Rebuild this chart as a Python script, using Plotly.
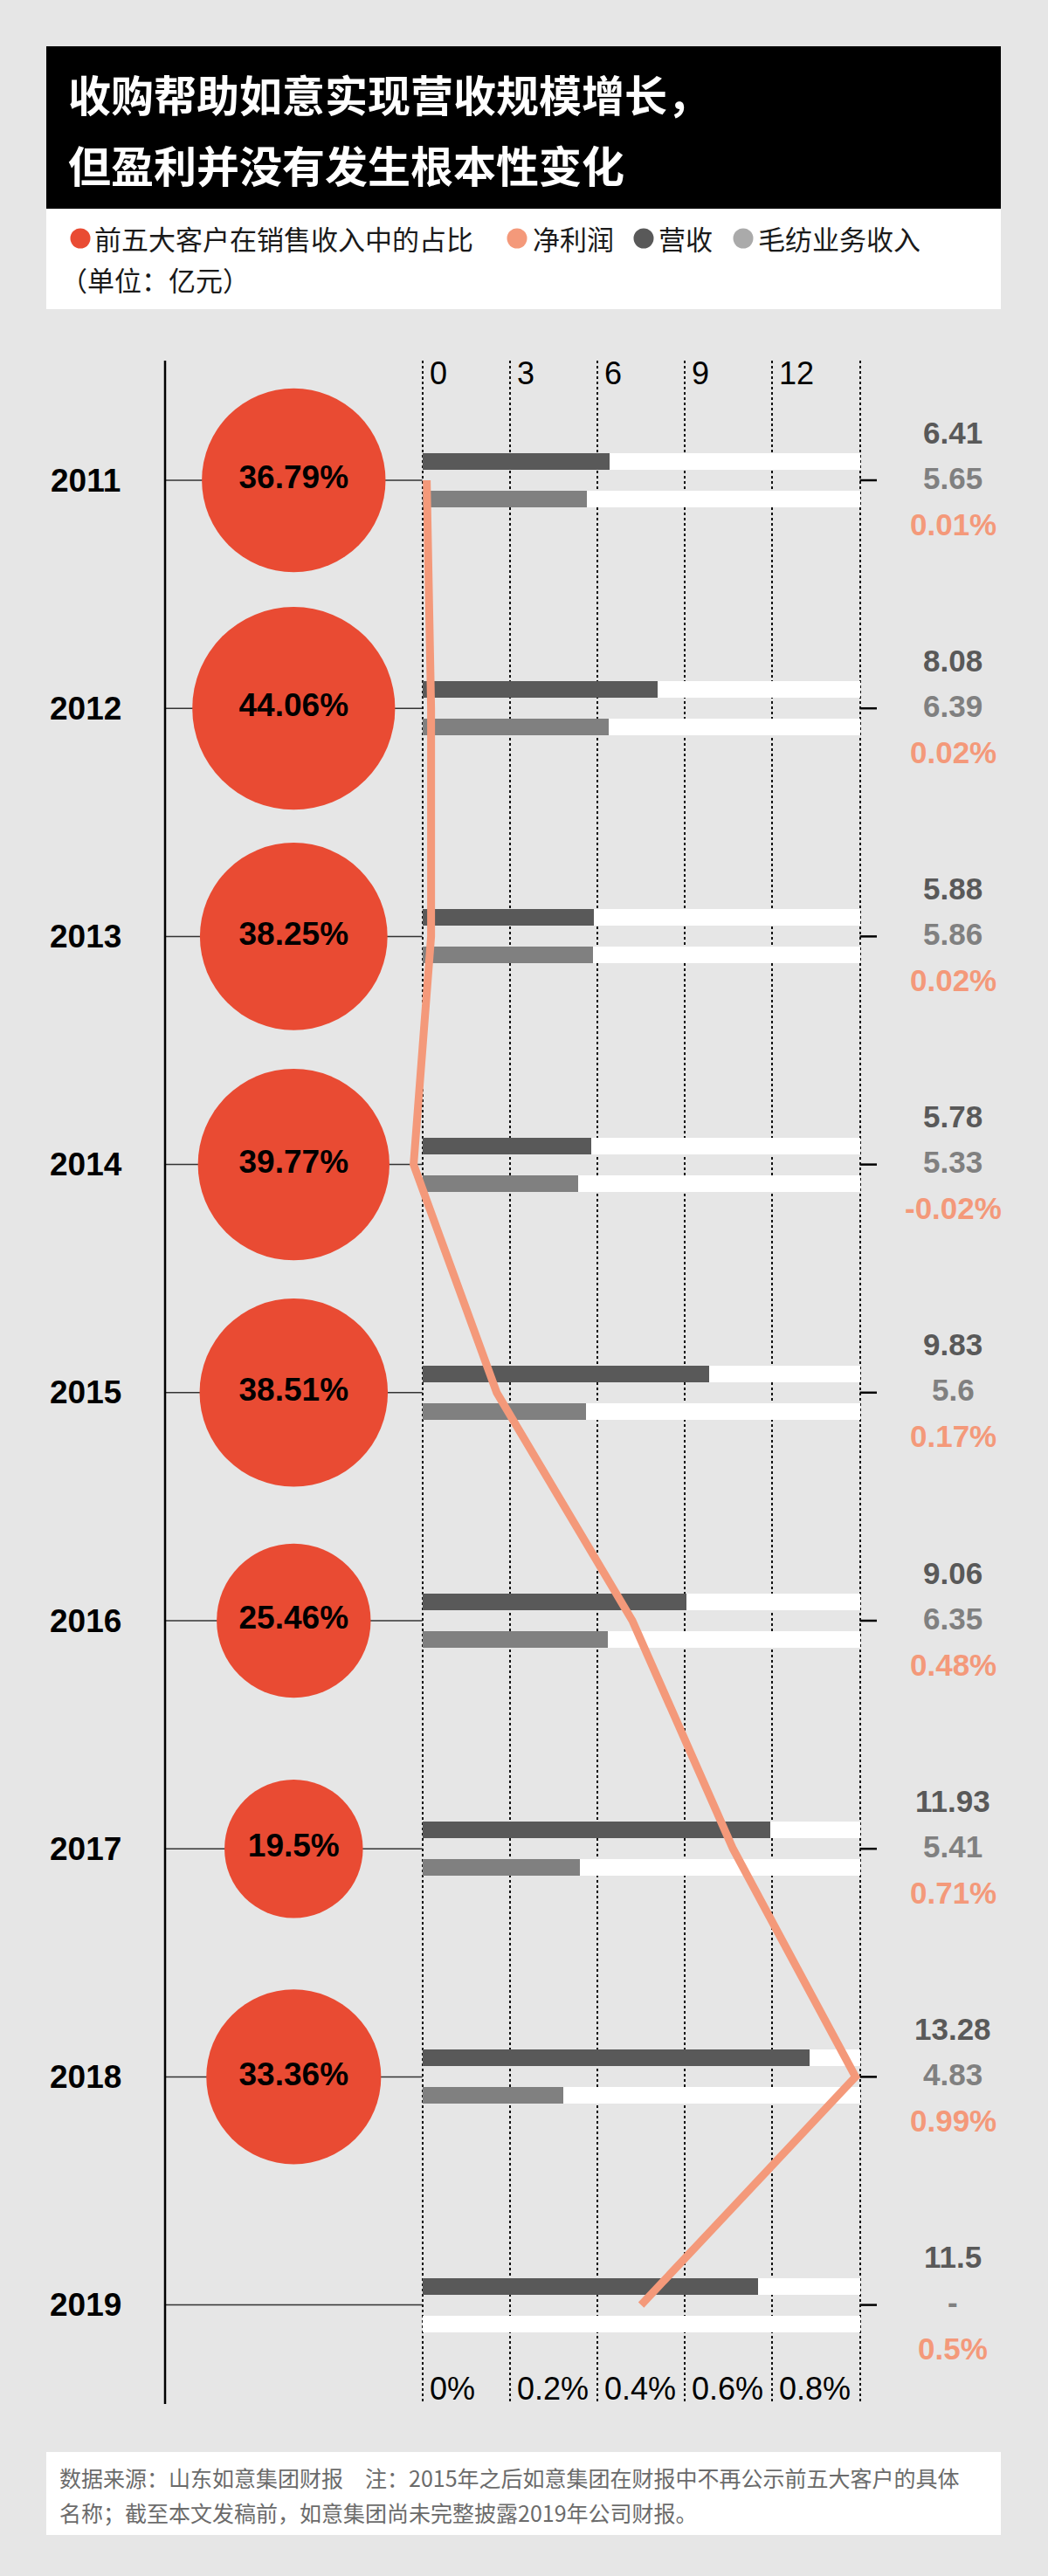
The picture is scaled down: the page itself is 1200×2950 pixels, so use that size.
import plotly.graph_objects as go

# data (亿元 / %)
years = [2011, 2012, 2013, 2014, 2015, 2016, 2017, 2018, 2019]
share_years = [2011, 2012, 2013, 2014, 2015, 2016, 2017, 2018]
top5_share = [36.79, 44.06, 38.25, 39.77, 38.51, 25.46, 19.5, 33.36]
revenue = [6.41, 8.08, 5.88, 5.78, 9.83, 9.06, 11.93, 13.28, 11.5]
textile_years = [2011, 2012, 2013, 2014, 2015, 2016, 2017, 2018]
textile = [5.65, 6.39, 5.86, 5.33, 5.6, 6.35, 5.41, 4.83]
net_margin = [0.01, 0.02, 0.02, -0.02, 0.17, 0.48, 0.71, 0.99, 0.5]

bar_ticks = [0, 3, 6, 9, 12]
pct_ticks = [0, 0.2, 0.4, 0.6, 0.8]
bar_max = 15
pct_max = 1.0

title_lines = ["收购帮助如意实现营收规模增长，", "但盈利并没有发生根本性变化"]
legend_names = ["前五大客户在销售收入中的占比", "净利润", "营收", "毛纺业务收入"]
unit_text = "（单位：亿元）"
note_lines = ["数据来源：山东如意集团财报　注：2015年之后如意集团在财报中不再公示前五大客户的具体",
              "名称；截至本文发稿前，如意集团尚未完整披露2019年公司财报。"]

RED, SALMON, DARK, MID, LIGHT = "#e94b33", "#f4997a", "#595959", "#808080", "#aaaaaa"
BG = "#e6e6e6"
CJK = "Noto Sans CJK SC"
NUM = "Liberation Sans"

W, H = 1200, 2950
ROW_PX = 261.2          # pixels between two years
ROW0_PX = 550           # pixel row of the first year
ZERO_PX, MAX_PX = 483.6, 984.6
PLOT_TOP, PLOT_BOT = 413, 2753


def fx(px):
    return px / W


def fy(px):
    return 1 - px / H


def yr(px):
    return years[0] + (px - ROW0_PX) / ROW_PX


unit_per_px = bar_max / (MAX_PX - ZERO_PX)
x_lo, x_hi = (450 - ZERO_PX) * unit_per_px, (1000 - ZERO_PX) * unit_per_px
bar_h = 19 / ROW_PX
bar_gap = 21.5 / ROW_PX

fig = go.Figure()

# white tracks behind bars
for off in (-bar_gap, bar_gap):
    fig.add_trace(go.Bar(y=years, x=[bar_max] * len(years), orientation="h",
                         width=bar_h, offset=off - bar_h / 2,
                         marker=dict(color="white", line_width=0), hoverinfo="skip"))

fig.add_trace(go.Bar(y=years, x=revenue, orientation="h", width=bar_h,
                     offset=-bar_gap - bar_h / 2, name="营收",
                     marker=dict(color=DARK, line_width=0)))
fig.add_trace(go.Bar(y=textile_years, x=textile, orientation="h", width=bar_h,
                     offset=bar_gap - bar_h / 2, name="毛纺业务收入",
                     marker=dict(color=MID, line_width=0)))

fig.add_trace(go.Scatter(y=years, x=net_margin, xaxis="x2", mode="lines",
                         line=dict(color=SALMON, width=9), name="净利润"))

fig.add_trace(go.Scatter(y=share_years, x=[0] * len(share_years), xaxis="x3", mode="markers+text",
                         marker=dict(size=[100 + 3.0 * s for s in top5_share], color=RED, line_width=0,
                                     opacity=1),
                         text=[f"{s:g}%" for s in top5_share], textposition="middle center",
                         textfont=dict(family=NUM, size=37, color="black", weight="bold"),
                         cliponaxis=False, name="前五大客户占比"))

shapes = []
# header / legend / footer panels
shapes.append(dict(type="rect", xref="paper", yref="paper", x0=fx(53), x1=fx(1146), y0=fy(239), y1=fy(53),
                   fillcolor="black", line_width=0, layer="below"))
shapes.append(dict(type="rect", xref="paper", yref="paper", x0=fx(53), x1=fx(1146), y0=fy(354), y1=fy(239),
                   fillcolor="white", line_width=0, layer="below"))
shapes.append(dict(type="rect", xref="paper", yref="paper", x0=fx(53), x1=fx(1146), y0=fy(2903), y1=fy(2808),
                   fillcolor="white", line_width=0, layer="below"))
# left axis
shapes.append(dict(type="line", xref="paper", yref="paper", x0=fx(189), x1=fx(189), y0=fy(PLOT_BOT), y1=fy(PLOT_TOP),
                   line=dict(color="black", width=2.5)))
# row lines
for y in years:
    shapes.append(dict(type="line", xref="paper", yref="y", x0=fx(189), x1=fx(ZERO_PX), y0=y, y1=y,
                       line=dict(color="#333333", width=1.5), layer="below"))
    shapes.append(dict(type="line", xref="paper", yref="y", x0=fx(MAX_PX), x1=fx(1004), y0=y, y1=y,
                       line=dict(color="black", width=2.5), layer="below"))
# legend dots
for cx, col in zip([92, 592, 737, 851], [RED, SALMON, DARK, LIGHT]):
    shapes.append(dict(type="circle", xref="paper", yref="paper", x0=fx(cx - 11.5), x1=fx(cx + 11.5),
                       y0=fy(273 + 11.5), y1=fy(273 - 11.5), fillcolor=col, line_width=0))

ann = []
for txt, ypx in zip(title_lines, [107, 187]):
    ann.append(dict(text=f"<b>{txt}</b>", xref="paper", yref="paper", x=fx(76), y=fy(ypx),
                    xanchor="left", yanchor="middle", showarrow=False,
                    font=dict(family=CJK, size=49, color="white")))
for txt, xpx in zip(legend_names, [106, 608, 752, 866]):
    ann.append(dict(text=txt, xref="paper", yref="paper", x=fx(xpx), y=fy(273),
                    xanchor="left", yanchor="middle", showarrow=False,
                    font=dict(family=CJK, size=31, color="#1a1a1a")))
ann.append(dict(text=unit_text, xref="paper", yref="paper", x=fx(67), y=fy(320),
                xanchor="left", yanchor="middle", showarrow=False,
                font=dict(family=CJK, size=31, color="#1a1a1a")))
for txt, ypx in zip(note_lines, [2837, 2877]):
    ann.append(dict(text=txt, xref="paper", yref="paper", x=fx(66), y=fy(ypx),
                    xanchor="left", yanchor="middle", showarrow=False,
                    font=dict(family=CJK, size=25, color="#6b6b6b")))

# axis labels
for t in bar_ticks:
    ann.append(dict(text=str(t), xref="x", yref="paper", x=t, y=fy(428), xshift=6,
                    xanchor="left", yanchor="middle", showarrow=False,
                    font=dict(family=NUM, size=36, color="black")))
for t in pct_ticks:
    ann.append(dict(text=f"{t:g}%", xref="x2", yref="paper", x=t, y=fy(2735), xshift=6,
                    xanchor="left", yanchor="middle", showarrow=False,
                    font=dict(family=NUM, size=36, color="black")))

# years and value labels
tex = dict(zip(textile_years, textile))
for i, y in enumerate(years):
    ann.append(dict(text=f"<b>{y}</b>", xref="paper", yref="y", x=fx(98), y=y,
                    xanchor="center", yanchor="middle", showarrow=False,
                    font=dict(family=NUM, size=37, color="black")))
    col_vals = [(f"{revenue[i]:g}", DARK, 55),
                (f"{tex[y]:g}" if y in tex else "-", MID, 3),
                (f"{net_margin[i]:g}%", SALMON, -50)]
    for txt, col, sh in col_vals:
        ann.append(dict(text=f"<b>{txt}</b>", xref="paper", yref="y", x=fx(1091), y=y, yshift=sh,
                        xanchor="center", yanchor="middle", showarrow=False,
                        font=dict(family=NUM, size=35, color=col)))

fig.update_layout(
    width=W, height=H, margin=dict(l=0, r=0, t=0, b=0),
    paper_bgcolor=BG, plot_bgcolor="rgba(0,0,0,0)",
    showlegend=False, barmode="overlay", bargap=0,
    shapes=shapes, annotations=ann,
    xaxis=dict(domain=[fx(450), fx(1000)], range=[x_lo, x_hi], tickvals=bar_ticks + [bar_max],
               showticklabels=False, showgrid=True, gridcolor="#111111", griddash="dot", gridwidth=1.5,
               zeroline=False, showline=False, ticks="", anchor="y", fixedrange=True),
    xaxis2=dict(overlaying="x", range=[x_lo / bar_max * pct_max, x_hi / bar_max * pct_max],
                visible=False, anchor="y"),
    xaxis3=dict(domain=[fx(189), fx(ZERO_PX)], range=[-1, 1], visible=False, anchor="y"),
    yaxis=dict(domain=[fy(PLOT_BOT), fy(PLOT_TOP)], range=[yr(PLOT_BOT), yr(PLOT_TOP)],
               visible=False, showgrid=False, zeroline=False),
)

# drop the default page margin so the figure fills the window
fig.write_html("out.html", config={"displayModeBar": False},
               post_script="document.body.style.margin='0';"
                           "document.documentElement.style.overflow='hidden';")
